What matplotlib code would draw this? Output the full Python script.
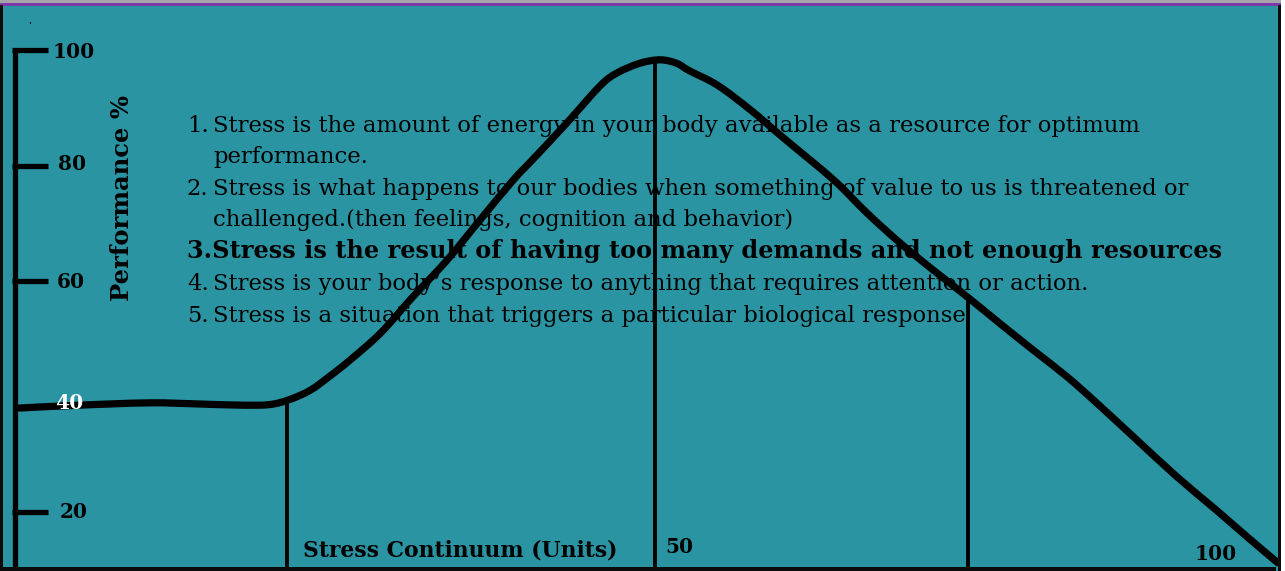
import numpy as np
import matplotlib
matplotlib.use("Agg")
import matplotlib.pyplot as plt
from matplotlib.patches import Rectangle, PathPatch
from matplotlib.path import Path

# ---------------- data ----------------
curve_stress = [0.2, 4.9, 10.4, 14.3, 17.5, 19.8, 21.4, 23.0, 24.5, 26.1,
                28.5, 31.0, 33.7, 36.3, 38.9, 40.4, 43.1, 45.7, 47.0, 48.8, 50.4,
                51.7, 52.7, 54.9, 57.5, 60.0, 64.0, 66.6, 69.2, 71.8, 74.5,
                77.0, 79.6, 82.3, 84.6, 87.5, 90.9, 94.0, 96.4, 98.8]
curve_perf = [38.0, 38.5, 38.9, 38.7, 38.5, 38.6, 39.5, 41.1, 43.5, 46.3,
              51.0, 57.2, 63.6, 70.6, 77.5, 81.0, 87.4, 93.8, 96.0, 97.7, 98.3,
              97.7, 96.4, 93.9, 89.6, 84.9, 77.5, 71.8, 66.6, 61.9, 57.2,
              52.7, 48.1, 43.4, 38.9, 33.0, 26.1, 20.3, 15.7, 11.2]
marker_stress = [21.2, 50.0, 74.5]

y_ticks = [100, 80, 60, 40, 20]
y_tick_labels = ["100", "80", "60", "40", "20"]
x_ticks = [50, 100]
x_tick_labels = ["50", "100"]

y_label = "Performance %"
x_label = "Stress Continuum (Units)"

statement_numbers = ["1.", "2.", "3.", "4.", "5."]
statement_lines = [
    ["Stress is the amount of energy in your body available as a resource for optimum",
     "performance."],
    ["Stress is what happens to our bodies when something of value to us is threatened or",
     "challenged.(then feelings, cognition and behavior)"],
    ["Stress is the result of having too many demands and not enough resources"],
    ["Stress is your body\u2019s response to anything that requires attention or action."],
    ["Stress is a situation that triggers a particular biological response"],
]
bold_statement = 2

# ---------------- figure ----------------
W, H = 1285, 571
TEAL = "#2a94a3"
fig = plt.figure(figsize=(W / 100, H / 100), dpi=100, facecolor=TEAL)
ax = fig.add_axes([0, 0, 1, 1])
ax.set_facecolor("none")
ax.axis("off")
ax.set_xlim(-1.33, 99.37)
ax.set_ylim(9.78, 108.66)


def fx(px):
    return px / W


def fy(py):
    return 1 - py / H


def rect(x0, y0, x1, y1, color):
    fig.add_artist(Rectangle((fx(x0), fy(y1)), (x1 - x0) / W, (y1 - y0) / H,
                             transform=fig.transFigure, color=color, lw=0, zorder=0.5))


# frame / borders
rect(0, 0, W, 3, "#a6a4a8")
rect(0, 3, W, 5.5, "#7a3aa8")
rect(0, 5, 3, H, "#0a0a0a")
rect(1278, 5, 1281, H, "#0a0a0a")
rect(1281, 0, W, H, "#ffffff")
rect(0, 567, 1276, H, "#0a0a0a")

# tiny speck near top-left
fig.add_artist(Rectangle((fx(29.5), fy(24)), 1.5 / W, 1.5 / H, transform=fig.transFigure,
                         color="#0a0a0a", lw=0))

# y axis line and ticks
ymin = ax.get_ylim()[0]
ax.plot([-0.15, -0.15], [100, ymin], color="black", lw=3.8, solid_capstyle="butt", zorder=3)
tick_list = [t for t in y_ticks if t != 40]
ax.hlines(tick_list, -0.4, 2.4, color="black", lw=3.8, zorder=3)

# curve, drawn as a smooth (Catmull-Rom -> Bezier) path through the read points
P = np.column_stack([curve_stress, curve_perf])
verts = [P[0]]
codes = [Path.MOVETO]
n = len(P)
for i in range(n - 1):
    p0 = P[i - 1] if i > 0 else P[i]
    p1 = P[i]
    p2 = P[i + 1]
    p3 = P[i + 2] if i + 2 < n else P[i + 1]
    c1 = p1 + (p2 - p0) / 6.0
    c2 = p2 - (p3 - p1) / 6.0
    verts += [c1, c2, p2]
    codes += [Path.CURVE4] * 3
ax.add_patch(PathPatch(Path(verts, codes), fill=False, edgecolor="black", lw=5.2,
                       capstyle="round", joinstyle="round", zorder=4))

# vertical marker lines from curve down to bottom
tops = np.interp(marker_stress, curve_stress, curve_perf)
ax.vlines(marker_stress, ymin, tops, color="black", lw=2.8, zorder=3)

serif = "DejaVu Serif"

# y tick labels
ylab_px = {"100": 53, "80": 58, "60": 57, "40": 55, "20": 60}
ylab_y = {"100": 52, "80": 164, "60": 282, "40": 403, "20": 512}
for t, lab in zip(y_ticks, y_tick_labels):
    col = "white" if lab == "40" else "black"
    fig.text(fx(ylab_px[lab]), fy(ylab_y[lab]), lab, fontsize=14.5,
             fontweight="bold", family=serif, color=col,
             ha="left", va="center", zorder=6)

# x tick labels
xlab_pos = {"50": (665, 547), "100": (1195, 554)}
for t, lab in zip(x_ticks, x_tick_labels):
    x0, y0 = xlab_pos[lab]
    fig.text(fx(x0), fy(y0), lab, fontsize=14.5, fontweight="bold", family=serif,
             color="black", ha="left", va="center", zorder=6)

# axis titles
fig.text(fx(122), fy(198), y_label, rotation=90, fontsize=17.5, fontweight="bold",
         family=serif, ha="center", va="center", zorder=6)
xl = fig.text(fx(303), fy(550), x_label, fontsize=14, fontweight="bold", family=serif,
              ha="left", va="center", zorder=6)

# statements
baselines = [132, 163, 195, 226, 258, 290, 322]
normal_size = 15
bold_size = 15
line_texts = []
num_texts = []
bi = 0
for i, (num, lines) in enumerate(zip(statement_numbers, statement_lines)):
    if i == bold_statement:
        t = fig.text(fx(187), fy(baselines[bi]), num + lines[0], fontsize=bold_size,
                     fontweight="bold", family=serif, ha="left", va="baseline", zorder=2)
        line_texts.append(("bold", t))
        bi += 1
        continue
    num_texts.append(fig.text(fx(187), fy(baselines[bi]), num, fontsize=normal_size,
                              family=serif, ha="left", va="baseline", zorder=2))
    for j, ln in enumerate(lines):
        t = fig.text(fx(213), fy(baselines[bi]), ln, fontsize=normal_size, family=serif,
                     ha="left", va="baseline", zorder=2)
        line_texts.append(("normal", t))
        bi += 1

# fit text sizes to the reference's widths
fig.canvas.draw()
r = fig.canvas.get_renderer()
first = line_texts[0][1]
scale = 930 / first.get_window_extent(r).width
bold_t = [t for k, t in line_texts if k == "bold"][0]
bscale = 1038 / bold_t.get_window_extent(r).width
for k, t in line_texts:
    t.set_fontsize(t.get_fontsize() * (bscale if k == "bold" else scale))
for t in num_texts:
    t.set_fontsize(t.get_fontsize() * scale)
xl.set_fontsize(xl.get_fontsize() * 315 / xl.get_window_extent(r).width)

fig.savefig("out.png", dpi=100, facecolor=TEAL)
